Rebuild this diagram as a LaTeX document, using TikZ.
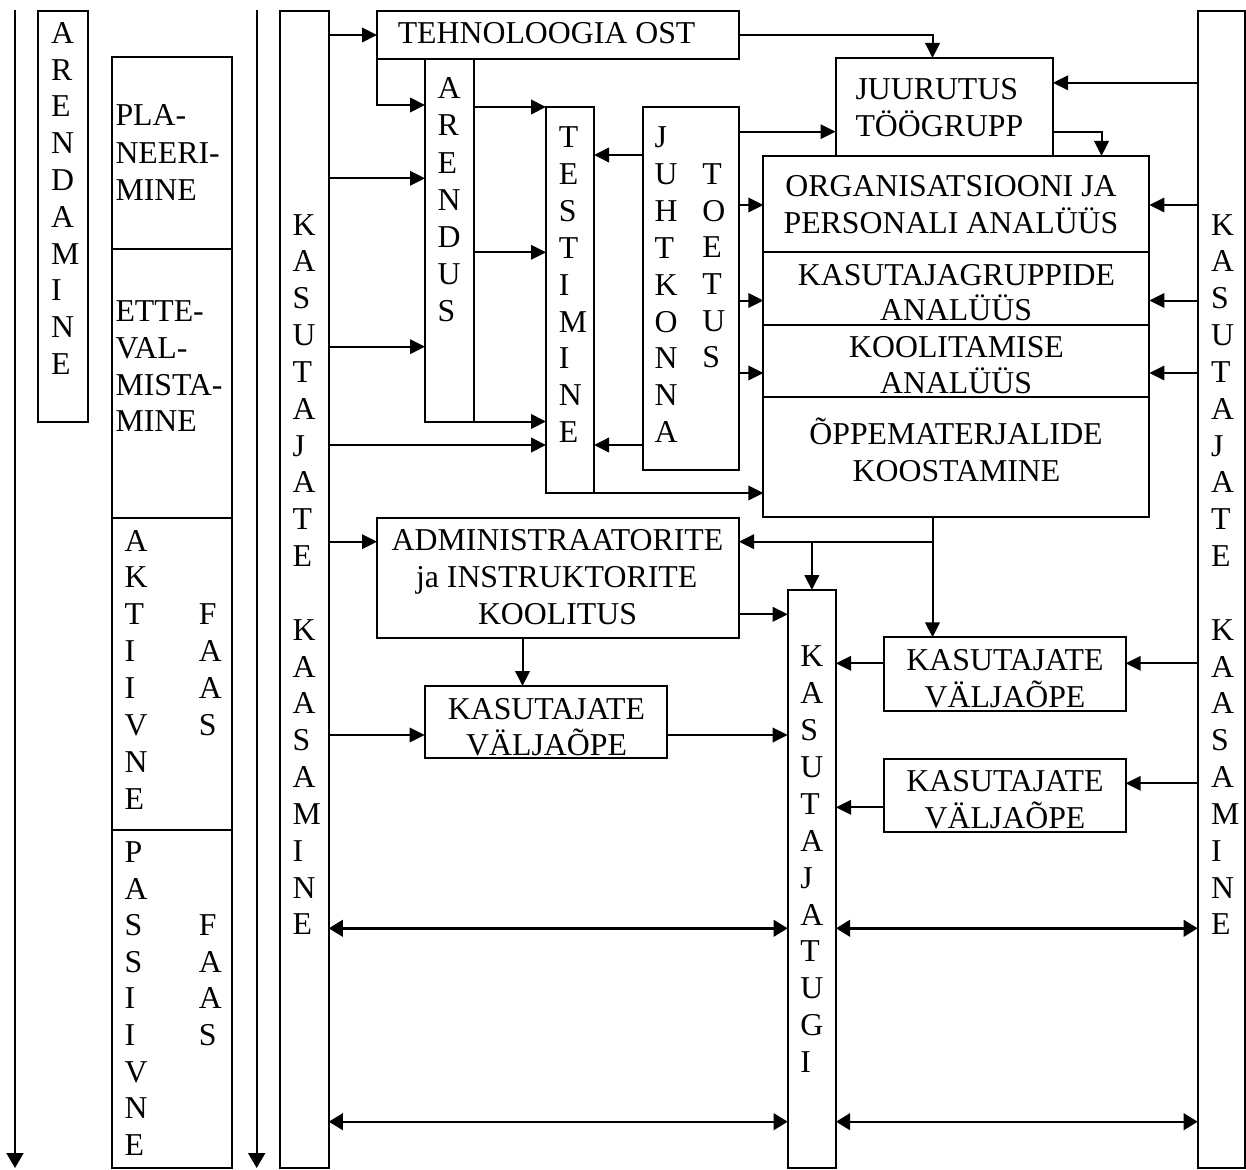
\documentclass[tikz,border=0pt]{standalone}
\usepackage{fontspec}
\setmainfont{Liberation Serif}
\usetikzlibrary{arrows.meta}
\begin{document}
\begin{tikzpicture}[x=1pt,y=-1pt,
  lbl/.style={font=\fontsize{31.8}{36.7}\selectfont, inner sep=0pt, outer sep=0pt},
  box/.style={draw, line width=2pt, inner sep=0pt, outer sep=0pt},
  arr/.style={line width=2pt, -{Triangle[length=15pt,width=14.5pt]}},
  dbl/.style={line width=2.4pt, {Triangle[length=14pt,width=16.5pt]}-{Triangle[length=14pt,width=16.5pt]}},
  big/.style={line width=2pt, -{Triangle[length=15pt,width=17pt]}}]
\useasboundingbox (0,0) rectangle (1246,1169);
\fill[white] (0,0) rectangle (1246,1169);

% time axes on the left
\coordinate (a1t) at (15,10);
\coordinate (a1b) at (15,1168);
\coordinate (a2t) at (256.7,10);
\coordinate (a2b) at (256.7,1168);
\draw[big] (a1t) -- (a1b);
\draw[big] (a2t) -- (a2b);

% left columns
\node[box, minimum width=50pt, minimum height=411pt] (arendamine) at (63.3,216.2) {};
\node[box, minimum width=120.6pt, minimum height=192.6pt] (plan) at (172,153) {};
\node[box, minimum width=120.6pt, minimum height=268.7pt] (ette) at (172,383.65) {};
\node[box, minimum width=120.6pt, minimum height=311.5pt] (akt) at (172,673.75) {};
\node[box, minimum width=120.6pt, minimum height=338pt] (pass) at (172,998.5) {};

% user involvement columns
\node[box, minimum width=48.4pt, minimum height=1156.8pt] (kkl) at (304.6,589.1) {};
\node[box, minimum width=47.3pt, minimum height=1156.5pt] (kkr) at (1221.35,589.25) {};

% process boxes
\node[box, minimum width=362pt, minimum height=48pt] (tech) at (558,35) {};
\node[box, minimum width=49pt, minimum height=362.5pt] (arendus) at (449.5,240.25) {};
\node[box, minimum width=48pt, minimum height=386pt] (test) at (570,300) {};
\node[box, minimum width=96.5pt, minimum height=363pt] (juht) at (690.75,288.5) {};
\node[box, minimum width=217.5pt, minimum height=98pt] (juur) at (944.25,107) {};
\node[box, minimum width=386pt, minimum height=96pt] (org) at (956.3,204) {};
\node[box, minimum width=386pt, minimum height=72.5pt] (kgr) at (956.3,288.25) {};
\node[box, minimum width=386pt, minimum height=72.5pt] (kool) at (956.3,360.75) {};
\node[box, minimum width=386pt, minimum height=120pt] (oppe) at (956.3,457) {};
\node[box, minimum width=362pt, minimum height=120pt] (admin) at (558,578) {};
\node[box, minimum width=242.4pt, minimum height=72pt] (kvl) at (545.8,722) {};
\node[box, minimum width=48.3pt, minimum height=577.5pt] (tugi) at (811.85,878.75) {};
\node[box, minimum width=241.7pt, minimum height=73.7pt] (kv1) at (1004.85,674.15) {};
\node[box, minimum width=241.7pt, minimum height=72.7pt] (kv2) at (1004.85,795.35) {};

% connector heights and columns
\coordinate (h105) at (0,105);
\coordinate (h178) at (0,178.3);
\coordinate (h347) at (0,346.7);
\coordinate (h252) at (0,252.3);
\coordinate (h445) at (0,445);
\coordinate (h155) at (0,155);
\coordinate (h132) at (0,131.7);
\coordinate (h205) at (0,205);
\coordinate (h300) at (0,300.5);
\coordinate (h373) at (0,373);
\coordinate (h83) at (0,82.8);
\coordinate (h614) at (0,614.3);
\coordinate (h735) at (0,735);
\coordinate (h663) at (0,663.3);
\coordinate (h783) at (0,783.3);
\coordinate (h807) at (0,807.3);
\coordinate (h928) at (0,928.3);
\coordinate (h1122) at (0,1121.7);
\coordinate (v932) at (932.5,0);
\coordinate (v1102) at (1101.5,0);
\coordinate (v522) at (522.5,0);
\coordinate (split) at (932.5,541.7);

% connectors
\draw[arr] (kkl.east |- tech.west) -- (tech.west);
\draw[arr] (tech.east) -| (juur.north -| v932);
\draw[arr] (tech.south west) |- (arendus.west |- h105);
\draw[arr] (kkl.east |- h178) -- (arendus.west |- h178);
\draw[arr] (kkl.east |- h347) -- (arendus.west |- h347);
\draw[arr] (arendus.east |- test.north) -- (test.north west);
\draw[arr] (arendus.east |- h252) -- (test.west |- h252);
\draw[arr] (arendus.south east) -- (test.west |- arendus.south);
\draw[arr] (kkl.east |- h445) -- (test.west |- h445);
\draw[arr] (juht.west |- h155) -- (test.east |- h155);
\draw[arr] (juht.west |- h445) -- (test.east |- h445);
\draw[arr] (test.south east) -- (oppe.west |- test.south);
\draw[arr] (juht.east |- h132) -- (juur.west |- h132);
\draw[arr] (juht.east |- h205) -- (org.west |- h205);
\draw[arr] (juht.east |- h300) -- (kgr.west |- h300);
\draw[arr] (juht.east |- h373) -- (kool.west |- h373);
\draw[arr] (kkr.west |- h83) -- (juur.east |- h83);
\draw[arr] (kkr.west |- h205) -- (org.east |- h205);
\draw[arr] (kkr.west |- h300) -- (kgr.east |- h300);
\draw[arr] (kkr.west |- h373) -- (kool.east |- h373);
\draw[arr] (juur.east |- h132) -| (org.north -| v1102);
\draw[line width=2pt] (oppe.south -| split) -- (split);
\draw[arr] (split) -- (kv1.north -| split);
\draw[arr] (split) -- (admin.east |- split);
\draw[arr] (tugi.north |- split) -- (tugi.north);
\draw[arr] (kkl.east |- split) -- (admin.west |- split);
\draw[arr] (admin.east |- h614) -- (tugi.west |- h614);
\draw[arr] (admin.south -| v522) -- (kvl.north -| v522);
\draw[arr] (kkl.east |- h735) -- (kvl.west |- h735);
\draw[arr] (kvl.east |- h735) -- (tugi.west |- h735);
\draw[arr] (kv1.west |- h663) -- (tugi.east |- h663);
\draw[arr] (kkr.west |- h663) -- (kv1.east |- h663);
\draw[arr] (kkr.west |- h783) -- (kv2.east |- h783);
\draw[arr] (kv2.west |- h807) -- (tugi.east |- h807);
\draw[dbl] (kkl.east |- h928) -- (tugi.west |- h928);
\draw[dbl] (tugi.east |- h928) -- (kkr.west |- h928);
\draw[dbl] (kkl.east |- h1122) -- (tugi.west |- h1122);
\draw[dbl] (tugi.east |- h1122) -- (kkr.west |- h1122);

% vertical letter stacks
\foreach \c [count=\i from 0] in {A,R,E,N,D,A,M,I,N,E}
  \node[lbl, anchor=base west] (tArd\i) at (51.2, 43.3+36.8*\i) {\c};
\foreach \c [count=\i from 0] in {A,R,E,N,D,U,S}
  \node[lbl, anchor=base west] (tAre\i) at (437.5, 99+37*\i) {\c};
\foreach \c [count=\i from 0] in {T,E,S,T,I,M,I,N,E}
  \node[lbl, anchor=base west] (tTes\i) at (558.8, 147.5+36.9*\i) {\c};
\foreach \c [count=\i from 0] in {J,U,H,T,K,O,N,N,A}
  \node[lbl, anchor=base west] (tJuh\i) at (654.5, 147.5+36.9*\i) {\c};
\foreach \c [count=\i from 0] in {T,O,E,T,U,S}
  \node[lbl, anchor=base west] (tToe\i) at (702.3, 184.4+36.7*\i) {\c};
\foreach \c [count=\i from 0] in {K,A,S,U,T,A,J,A,T,E}
  \node[lbl, anchor=base west] (tKl\i) at (292.6, 235+36.84*\i) {\c};
\foreach \c [count=\i from 11] in {K,A,A,S,A,M,I,N,E}
  \node[lbl, anchor=base west] (tKl\i) at (292.6, 235+36.84*\i) {\c};
\foreach \c [count=\i from 0] in {K,A,S,U,T,A,J,A,T,E}
  \node[lbl, anchor=base west] (tKr\i) at (1211, 235+36.84*\i) {\c};
\foreach \c [count=\i from 11] in {K,A,A,S,A,M,I,N,E}
  \node[lbl, anchor=base west] (tKr\i) at (1211, 235+36.84*\i) {\c};
\foreach \c [count=\i from 0] in {K,A,S,U,T,A,J,A,T,U,G,I}
  \node[lbl, anchor=base west] (tTug\i) at (800.3, 666.7+36.9*\i) {\c};
\foreach \c [count=\i from 0] in {A,K,T,I,I,V,N,E}
  \node[lbl, anchor=base west] (tAkt\i) at (124.5, 551+36.9*\i) {\c};
\foreach \c [count=\i from 0] in {F,A,A,S}
  \node[lbl, anchor=base west] (tFa\i) at (198.8, 624.8+36.9*\i) {\c};
\foreach \c [count=\i from 0] in {P,A,S,S,I,I,V,N,E}
  \node[lbl, anchor=base west] (tPas\i) at (124.5, 862.5+36.6*\i) {\c};
\foreach \c [count=\i from 0] in {F,A,A,S}
  \node[lbl, anchor=base west] (tFp\i) at (198.8, 935.7+36.6*\i) {\c};

% horizontal labels
\node[lbl, anchor=base west] (tPl1) at (115.5,126) {PLA-};
\node[lbl, anchor=base west] (tPl2) at (115.5,163.7) {NEERI-};
\node[lbl, anchor=base west] (tPl3) at (115.5,200.6) {MINE};
\node[lbl, anchor=base west] (tEt1) at (115.5,321.7) {ETTE-};
\node[lbl, anchor=base west] (tEt2) at (115.5,358.3) {VAL-};
\node[lbl, anchor=base west] (tEt3) at (115.5,395) {MISTA-};
\node[lbl, anchor=base west] (tEt4) at (115.5,431.7) {MINE};
\node[lbl, anchor=base west] (tTech) at (397.8,43.3) {TEHNOLOOGIA OST};
\node[lbl, anchor=base west] (tJu1) at (855.5,99.5) {JUURUTUS};
\node[lbl, anchor=base west] (tJu2) at (855.5,136.7) {TÖÖGRUPP};
\node[lbl, anchor=base] (tOr1) at (951,196) {ORGANISATSIOONI JA};
\node[lbl, anchor=base] (tOr2) at (951,233) {PERSONALI ANALÜÜS};
\node[lbl, anchor=base] (tKg1) at (956.5,285.2) {KASUTAJAGRUPPIDE};
\node[lbl, anchor=base] (tKg2) at (956,320.4) {ANALÜÜS};
\node[lbl, anchor=base] (tKo1) at (956.5,357.5) {KOOLITAMISE};
\node[lbl, anchor=base] (tKo2) at (956,393.7) {ANALÜÜS};
\node[lbl, anchor=base] (tOp1) at (956,444.4) {ÕPPEMATERJALIDE};
\node[lbl, anchor=base] (tOp2) at (956.5,481.6) {KOOSTAMINE};
\node[lbl, anchor=base] (tAd1) at (557.5,550) {ADMINISTRAATORITE};
\node[lbl, anchor=base] (tAd2) at (556.6,587.3) {ja INSTRUKTORITE};
\node[lbl, anchor=base] (tAd3) at (557.5,624) {KOOLITUS};
\node[lbl, anchor=base] (tKvl1) at (546.4,719) {KASUTAJATE};
\node[lbl, anchor=base] (tKvl2) at (546.6,755) {VÄLJAÕPE};
\node[lbl, anchor=base] (tKv11) at (1005,670.7) {KASUTAJATE};
\node[lbl, anchor=base] (tKv12) at (1005,707.3) {VÄLJAÕPE};
\node[lbl, anchor=base] (tKv21) at (1005,791.7) {KASUTAJATE};
\node[lbl, anchor=base] (tKv22) at (1005,828.3) {VÄLJAÕPE};
\end{tikzpicture}
\end{document}
